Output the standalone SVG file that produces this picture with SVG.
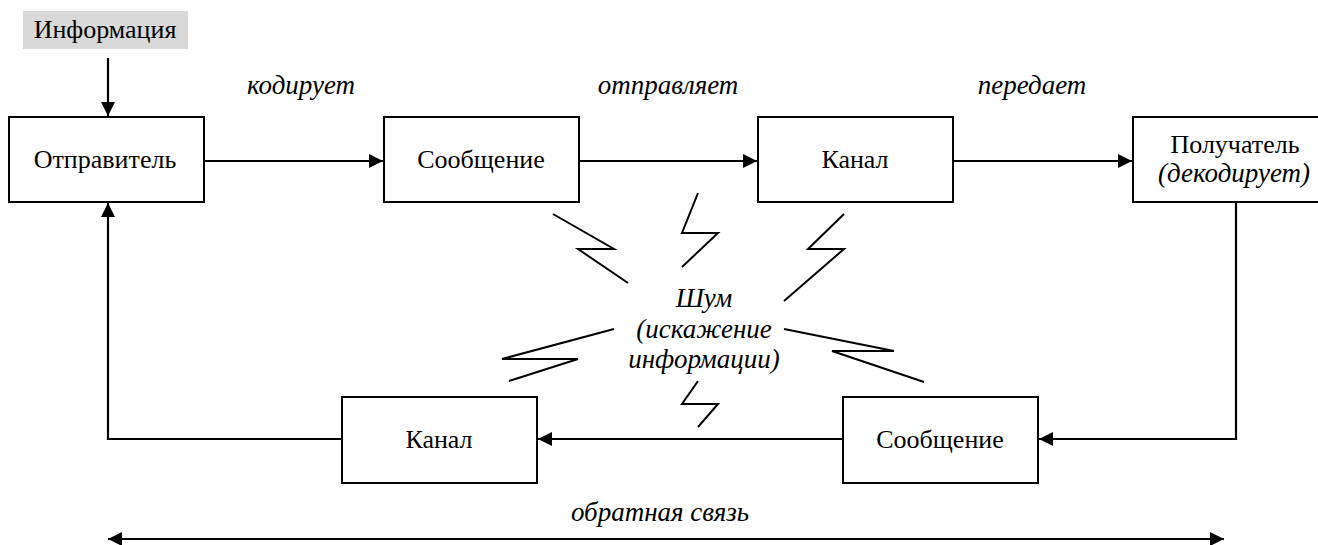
<svg xmlns="http://www.w3.org/2000/svg" width="1318" height="545" viewBox="0 0 1318 545">
<defs>
<marker id="ah" viewBox="0 0 14 14" refX="14" refY="7" markerWidth="14" markerHeight="14" markerUnits="userSpaceOnUse" orient="auto-start-reverse">
<path d="M0,0 L14,7 L0,14 Z" fill="#000"/>
</marker>
<style>
.box{fill:#fff;stroke:#000;stroke-width:2}
.t{font-family:'Liberation Serif','Times New Roman',serif;font-size:26px;fill:#000;text-anchor:middle}
.i{font-style:italic;font-size:27px}
.c{fill:none;stroke:#000;stroke-width:2.2}
.bolt{fill:none;stroke:#000;stroke-width:2;stroke-linejoin:miter}
</style>
</defs>
<rect width="1318" height="545" fill="#fff"/>

<g id="info">
<rect x="23" y="11" width="165" height="38" fill="#d9d9d9"/>
<text class="t" x="105" y="38">Информация</text>
</g>
<g id="sender">
<rect class="box" x="9" y="117" width="195" height="85"/>
<text class="t" x="105" y="168">Отправитель</text>
</g>
<g id="message1">
<rect class="box" x="384" y="117" width="195" height="85"/>
<text class="t" x="481" y="168">Сообщение</text>
</g>
<g id="channel1">
<rect class="box" x="758" y="117" width="195" height="85"/>
<text class="t" x="855" y="168">Канал</text>
</g>
<g id="receiver">
<rect class="box" x="1133" y="117" width="205" height="85"/>
<text class="t" x="1235" y="153">Получатель</text>
<text class="t i" x="1234" y="182">(декодирует)</text>
</g>
<g id="message2">
<rect class="box" x="843" y="397" width="195" height="86"/>
<text class="t" x="940" y="448">Сообщение</text>
</g>
<g id="channel2">
<rect class="box" x="342" y="397" width="195" height="86"/>
<text class="t" x="439" y="448">Канал</text>
</g>
<g id="noise">
<text class="t i" x="704" y="307">Шум</text>
<text class="t i" x="704" y="338">(искажение</text>
<text class="t i" x="704" y="368">информации)</text>
<path class="bolt" d="M553,214 L614,249 L578,249 L628,283"/>
<path class="bolt" d="M698,193 L682,233 L718,233 L682,267"/>
<path class="bolt" d="M844,214 L808,249 L844,249 L784,301"/>
<path class="bolt" d="M784,329 L894,351 L832,351 L924,382"/>
<path class="bolt" d="M698,381 L682,404 L718,404 L698,427"/>
<path class="bolt" d="M614,329 L502,359 L578,359 L509,381"/>
</g>
<g id="labels">
<text class="t i" x="301" y="94">кодирует</text>
<text class="t i" x="668" y="94">отправляет</text>
<text class="t i" x="1032" y="94">передает</text>
<text class="t i" x="660" y="521">обратная связь</text>
</g>
<g id="connectors">
<path class="c" d="M108,58 L108,116" marker-end="url(#ah)"/>
<path class="c" d="M204,161 L383,161" marker-end="url(#ah)"/>
<path class="c" d="M579,161 L757,161" marker-end="url(#ah)"/>
<path class="c" d="M953,161 L1132,161" marker-end="url(#ah)"/>
<path class="c" d="M1236,202 L1236,439 L1039,439" marker-end="url(#ah)"/>
<path class="c" d="M843,439 L538,439" marker-end="url(#ah)"/>
<path class="c" d="M342,439 L108,439 L108,203" marker-end="url(#ah)"/>
<path class="c" d="M108,539 L1224,539" marker-start="url(#ah)" marker-end="url(#ah)"/>
</g>
</svg>
